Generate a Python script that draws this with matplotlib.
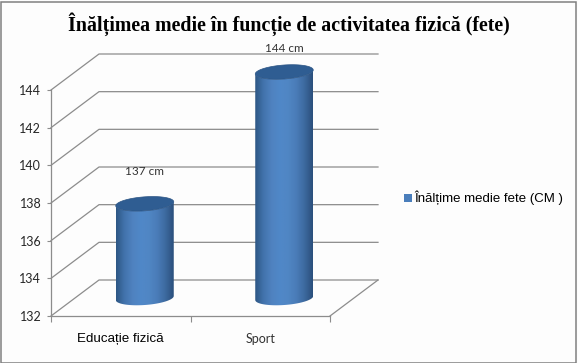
import matplotlib
matplotlib.use("Agg")
import matplotlib.pyplot as plt
import numpy as np
from matplotlib.colors import LinearSegmentedColormap
from matplotlib.patches import Patch, PathPatch, Rectangle
from matplotlib.path import Path

# data
categories = ["Educație fizică", "Sport"]
heights = [137, 144]
value_labels = ["137 cm", "144 cm"]
y_ticks = [132, 134, 136, 138, 140, 142, 144]
series_name = "Înălțime medie fete (CM )"
title = "Înălțimea medie în funcție de activitatea fizică (fete)"

W, H = 578, 363
GRID = "#8c8c8c"

fig = plt.figure(figsize=(W / 100, H / 100), dpi=100, facecolor="#fdfdfd")
fig.add_artist(Rectangle((0.5 / W, 0.5 / H), 1 - 2.5 / W, 1 - 2 / H, transform=fig.transFigure,
                         fill=False, edgecolor="#808080", linewidth=1.1))

# axes = front plane of the fake 3d box
ax = fig.add_axes([51 / W, 1 - 316 / H, 279 / W, 226 / H])
ax.patch.set_alpha(0)
ax.set_xlim(0, 2)
ax.set_ylim(132, 144)
for name in ["top", "right"]:
    ax.spines[name].set_visible(False)
for name in ["left", "bottom"]:
    ax.spines[name].set_color(GRID)
    ax.spines[name].set_linewidth(0.9)

# depth of the box in data units
dx = 48 / 279 * 2
dy = 36 / 226 * 12

# walls and floor
for t in y_ticks:
    ax.plot([0, dx, 2 + dx], [t, t + dy, t + dy], color=GRID, lw=0.9, clip_on=False, zorder=1)
ax.plot([2, 2 + dx], [132, 132 + dy], color=GRID, lw=0.9, clip_on=False, zorder=1)

ax.set_yticks(y_ticks)
ax.tick_params(axis="y", length=3, width=0.8, color=GRID, pad=4, labelsize=9, labelcolor="#262626")
for lab in ax.get_yticklabels():
    lab.set_fontfamily("Lato")

ax.set_xticks([0, 1, 2])
ax.set_xticklabels([])
ax.tick_params(axis="x", which="major", length=4, width=0.8, color=GRID)
ax.set_xticks([0.5, 1.5], categories, minor=True)
ax.tick_params(axis="x", which="minor", length=0, pad=12)
minor = ax.get_xticklabels(minor=True)
minor[0].set_fontfamily("Liberation Sans")
minor[0].set_fontsize(9.6)
minor[0].set_color("black")
minor[1].set_fontfamily("Lato")
minor[1].set_fontsize(9)
minor[1].set_color("#333333")

# cylinders
cmap = LinearSegmentedColormap.from_list("cyl", ["#2d5684", "#4273ac", "#4f82c0", "#5088c8", "#5086c4", "#4a7cb8", "#3d6a9f", "#2b4f7c"])
grad = np.linspace(0, 1, 128).reshape(1, -1)
rx = 29 / 279 * 2
ry = 7 / 226 * 12
tilt = 2 / 226 * 12
theta = np.linspace(0, 2 * np.pi, 90)
label_gap = [32, 24]

for i, v in enumerate(heights):
    cx = i + 0.5 + dx / 2
    y0 = 132 + dy / 2
    y1 = v + dy / 2
    # lower half of each rim
    low = np.linspace(np.pi, 2 * np.pi, 45)
    bx = cx + rx * np.cos(low)
    by = y0 + ry * np.sin(low) + tilt * np.cos(low)
    tx = bx[::-1]
    ty = y1 + ry * np.sin(low)[::-1] + tilt * np.cos(low)[::-1]
    body = Path(np.vstack([np.column_stack([bx, by]), np.column_stack([tx, ty]), [bx[0], by[0]]]))
    im = ax.imshow(grad, cmap=cmap, extent=[cx - rx, cx + rx, y0 - 2 * ry, y1 + 2 * ry],
                   aspect="auto", zorder=3, interpolation="bilinear")
    im.set_clip_box(fig.bbox)
    im.set_clip_path(body, transform=ax.transData)
    top = np.column_stack([cx + rx * np.cos(theta), y1 + ry * np.sin(theta) + tilt * np.cos(theta)])
    ax.add_patch(PathPatch(Path(top), facecolor="#2f5d92", edgecolor="#2b5484", lw=0.5, zorder=4, clip_on=False))
    ax.annotate(value_labels[i], (cx, y1), xytext=(0, label_gap[i] * 0.72), textcoords="offset points",
                ha="center", va="center", fontsize=8.5, fontfamily="Lato", color="#333333",
                annotation_clip=False, zorder=5)

ax.set_xlim(0, 2)
ax.set_ylim(132, 144)

fig.text(288.5 / W, 1 - 24 / H, title, ha="center", va="center", fontsize=14.42,
         fontfamily="Liberation Serif", fontweight="bold", color="black")

fig.legend(handles=[Patch(facecolor="#4a7ebb", edgecolor="none", label=series_name)],
           loc="center left", bbox_to_anchor=(403 / W, 1 - 198 / H), frameon=False,
           prop={"family": "Liberation Sans", "size": 9.55}, handlelength=0.55, handleheight=0.55,
           handletextpad=0.2, borderpad=0.1, borderaxespad=0)

fig.savefig("out.png", dpi=100, facecolor=fig.get_facecolor())
